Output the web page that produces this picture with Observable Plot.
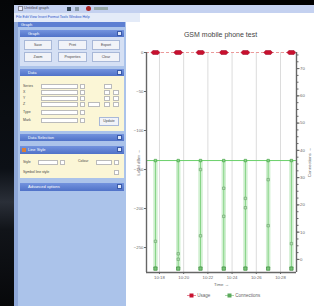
<!DOCTYPE html>
<html><head><meta charset="utf-8">
<script src="https://cdn.jsdelivr.net/npm/d3@7"></script>
<script src="https://cdn.jsdelivr.net/npm/@observablehq/plot@0.6"></script>
<style>
html,body{margin:0;padding:0}
body{width:314px;height:306px;overflow:hidden;position:relative;background:#000;font-family:"Liberation Sans",Arial,sans-serif}
.a{position:absolute;box-sizing:border-box}
.hdr{background:linear-gradient(#7393de,#5072c8);color:#fff;font-size:4px;line-height:7px;padding-left:8px}
.hdr i{position:absolute;right:2px;top:1px;width:5px;height:5px;background:#dfe7fa;border:1px solid #3a5aa8;box-sizing:border-box}
.btn{background:#f1f3f8;border:1px solid #a8b8d8;font-size:3.5px;line-height:8px;text-align:center;color:#444}
.lbl{font-size:3.5px;color:#444}
.inp{background:#fff;border:1px solid #bbb}
</style></head>
<body>
<div class="a" style="left:0;top:0;width:14px;height:306px;background:linear-gradient(#050608 0%,#0c1016 55%,#2a2f38 66%,#111419 75%,#07080a 100%)"></div>
<div class="a" style="left:14px;top:5px;width:300px;height:8px;background:#c4d1f0"></div>
<div class="a" style="left:18px;top:6px;width:5px;height:5px;background:#eef;border:1px solid #889"></div>
<div class="a lbl" style="left:24px;top:5px;font-size:4px;color:#445">Untitled graph</div>
<div class="a" style="left:67px;top:7px;width:4px;height:4px;background:#345"></div>
<div class="a" style="left:75px;top:7px;width:4px;height:4px;background:#8899aa"></div>
<div class="a" style="left:86px;top:6px;width:5px;height:5px;background:#a22;border-radius:3px"></div>
<div class="a" style="left:94px;top:7px;width:14px;height:3px;background:#9aa"></div>
<div class="a" style="left:14px;top:13px;width:300px;height:293px;background:#fff"></div>
<div class="a" style="left:14px;top:13px;width:126px;height:9px;background:#e4ebf8"></div>
<div class="a lbl" style="left:16px;top:15px;font-size:3.5px;color:#2a55c8;white-space:nowrap">File  Edit  View  Insert  Format  Tools  Window  Help</div>
<div class="a" style="left:14px;top:22px;width:112px;height:284px;background:#abc3ea"></div>
<div class="a" style="left:14px;top:22px;width:4px;height:284px;background:#8fa8d8"></div>
<div class="a hdr" style="left:18px;top:22px;width:107px;height:5px;line-height:5px;background:#5d7fd2;padding-left:3px">Graph</div>

<div class="a hdr" style="left:20px;top:30px;width:104px;height:7px">Graph<i></i></div>
<div class="a" style="left:20px;top:37px;width:104px;height:29px;background:#d5e0f4"></div>
<div class="a btn" style="left:24px;top:40px;width:28px;height:10px">Save</div>
<div class="a btn" style="left:58px;top:40px;width:29px;height:10px">Print</div>
<div class="a btn" style="left:92px;top:40px;width:28px;height:10px">Export</div>
<div class="a btn" style="left:24px;top:52px;width:28px;height:10px">Zoom</div>
<div class="a btn" style="left:58px;top:52px;width:29px;height:10px">Properties</div>
<div class="a btn" style="left:92px;top:52px;width:28px;height:10px">Clear</div>

<div class="a hdr" style="left:20px;top:69px;width:104px;height:7px">Data<i></i></div>
<div class="a" style="left:20px;top:76px;width:104px;height:55px;background:#fbf6d6"></div>
<div class="a lbl" style="left:23px;top:84px">Series</div><div class="a inp" style="left:41px;top:84px;width:37px;height:5px"></div><div class="a inp" style="left:80px;top:84px;width:5px;height:5px"></div><div class="a inp" style="left:104px;top:84px;width:8px;height:5px"></div>
<div class="a lbl" style="left:23px;top:90px">X</div><div class="a inp" style="left:41px;top:90px;width:37px;height:5px"></div><div class="a inp" style="left:80px;top:90px;width:5px;height:5px"></div><div class="a inp" style="left:104px;top:90px;width:6px;height:5px"></div><div class="a inp" style="left:113px;top:90px;width:6px;height:5px"></div>
<div class="a lbl" style="left:23px;top:96px">Y</div><div class="a inp" style="left:41px;top:96px;width:37px;height:5px"></div><div class="a inp" style="left:80px;top:96px;width:5px;height:5px"></div><div class="a inp" style="left:104px;top:96px;width:6px;height:5px"></div><div class="a inp" style="left:113px;top:96px;width:6px;height:5px"></div>
<div class="a lbl" style="left:23px;top:102px">Z</div><div class="a inp" style="left:41px;top:102px;width:37px;height:5px"></div><div class="a inp" style="left:80px;top:102px;width:5px;height:5px"></div><div class="a inp" style="left:88px;top:102px;width:12px;height:5px"></div><div class="a inp" style="left:104px;top:102px;width:6px;height:5px"></div><div class="a inp" style="left:113px;top:102px;width:6px;height:5px"></div>
<div class="a lbl" style="left:23px;top:110px">Type</div><div class="a inp" style="left:41px;top:110px;width:37px;height:5px"></div><div class="a inp" style="left:80px;top:110px;width:5px;height:5px"></div>
<div class="a lbl" style="left:23px;top:118px">Mark</div><div class="a inp" style="left:41px;top:118px;width:37px;height:5px"></div><div class="a inp" style="left:80px;top:118px;width:5px;height:5px"></div>
<div class="a btn" style="left:99px;top:117px;width:20px;height:9px;line-height:7px">Update</div>

<div class="a hdr" style="left:20px;top:134px;width:104px;height:7px">Data Selection<i></i></div>
<div class="a hdr" style="left:20px;top:146px;width:104px;height:8px;line-height:8px">Line Style<i></i></div>
<div class="a" style="left:22px;top:148px;width:4px;height:4px;background:#d9803a"></div>
<div class="a" style="left:20px;top:154px;width:104px;height:24px;background:#fbf6d6"></div>
<div class="a lbl" style="left:23px;top:160px">Style</div><div class="a inp" style="left:38px;top:160px;width:20px;height:5px"></div><div class="a inp" style="left:60px;top:160px;width:5px;height:5px"></div>
<div class="a lbl" style="left:78px;top:159px">Colour</div><div class="a inp" style="left:96px;top:160px;width:16px;height:5px"></div><div class="a inp" style="left:114px;top:160px;width:5px;height:5px"></div>
<div class="a lbl" style="left:23px;top:170px">Symbol line style</div><div class="a inp" style="left:114px;top:170px;width:5px;height:5px"></div>
<div class="a hdr" style="left:20px;top:183px;width:104px;height:8px;line-height:8px">Advanced options<i></i></div>

<div id="chart" class="a" style="left:127px;top:22px;width:187px;height:284px">
  <div style="height:23px;line-height:26px;text-align:center;font-size:7px;color:#444">GSM mobile phone test</div>
  <div id="plot"></div>
  <div id="legend" style="height:16px;position:relative;font-size:4.5px;color:#666"></div>
</div>

<script>
// ---- data ----
const xTicks = [18, 20, 22, 24, 26, 28];
const xTickLabels = ["10:18", "10:20", "10:22", "10:24", "10:26", "10:28"];
const leftTicks = [0, -50, -100, -150, -200, -250];
const rightTicks = [70, 60, 50, 40, 30, 20, 10, 0];
const seriesNames = ["Usage", "Connections"];
const groupX = [17.67, 19.55, 21.39, 23.31, 25.1, 26.98, 28.9];
const usageLevel = [0, 0, 0, 0, 0, 0, 0];
const connBase = [-138.5, -138.5, -138.5, -138.5, -138.5, -138.5, -138.5];
const connDrop = [-277, -277, -277, -277, -277, -277, -277];
const midX = [17.67, 19.55, 19.55, 21.39, 21.39, 23.31, 23.31, 25.1, 25.1, 26.98, 26.98, 28.9];
const midY = [-242, -258, -265, -150, -235, -174, -210, -187, -199, -163, -222, -245];
const xDomain = [16.93, 29.32];
const yDomain = [-282, 0];
const rightDomain = [-4.8, 75.9];

// ---- build ----
const red = "#c8102e", green = "#3da33d";
const l2r = d3.scaleLinear(yDomain, rightDomain);
const r2l = d3.scaleLinear(rightDomain, yDomain);
const minorRight = d3.range(0, 76, 2.5).map(v => r2l(v));
const xlab = new Map(xTicks.map((t, i) => [t, xTickLabels[i]]));
const usage = groupX.map((x, i) => ({x, y: usageLevel[i]}));
const conn = groupX.map((x, i) => ({x, y1: connBase[i], y2: connDrop[i]}));
const mids = midX.map((x, i) => ({x, y: midY[i]}));
const wide = {draw(ctx, size) {
  const r = Math.sqrt(size / Math.PI);
  ctx.moveTo(-2.2 * r, 0); ctx.lineTo(-1.3 * r, -r); ctx.lineTo(1.3 * r, -r);
  ctx.lineTo(2.2 * r, 0); ctx.lineTo(1.3 * r, r); ctx.lineTo(-1.3 * r, r); ctx.closePath();
}};

const plot = Plot.plot({
  width: 187, height: 245,
  marginTop: 7, marginLeft: 19, marginRight: 18, marginBottom: 18,
  style: {fontSize: "4.3px", fontFamily: "Liberation Sans, Arial, sans-serif", color: "#666", background: "#fff", overflow: "visible"},
  x: {domain: xDomain},
  y: {domain: yDomain},
  marks: [
    Plot.gridX(xTicks, {stroke: "#dcdcdc", strokeOpacity: 1}),
    Plot.ruleX(conn, {x: "x", y1: "y1", y2: "y2", stroke: "#d2f0d2", strokeWidth: 4.5}),
    Plot.ruleX(conn, {x: "x", y1: "y1", y2: "y2", stroke: "#86d486", strokeWidth: 1}),
    Plot.ruleY([connBase[0]], {stroke: "#6ad06a", strokeWidth: 1}),
    Plot.ruleY([usageLevel[0]], {stroke: "#eb9a9a", strokeWidth: 1.2, strokeDasharray: "3,2"}),
    Plot.dot(mids, {x: "x", y: "y", symbol: "square", r: 1.4, fill: "#b0dcb0", stroke: "#6aa46a", strokeWidth: 0.6}),
    Plot.dot(conn, {x: "x", y: "y1", symbol: "square", r: 1.4, fill: "#8fd08f", stroke: green, strokeWidth: 0.6}),
    Plot.dot(conn, {x: "x", y: "y2", symbol: "square", r: 1.9, fill: "#78c478", stroke: "#3a8a3a", strokeWidth: 0.7}),
    Plot.dot(usage, {x: "x", y: "y", symbol: wide, r: 2, fill: red, stroke: "#9a0020", strokeWidth: 0.5}),
    Plot.ruleX([xDomain[0]], {stroke: "#666", strokeWidth: 1.4}),
    Plot.ruleX([xDomain[1]], {stroke: "#666", strokeWidth: 1.4}),
    Plot.ruleY([yDomain[0]], {stroke: "#666", strokeWidth: 1.4}),
    Plot.axisX({ticks: xTicks, tickFormat: d => xlab.get(d), tickSize: 2, tickPadding: 1, label: "Time", labelAnchor: "center", labelOffset: 13}),
    Plot.axisY({ticks: leftTicks, tickSize: 2, tickPadding: 1, label: "Level dBm", labelAnchor: "center", labelOffset: 10}),
    Plot.axisY({anchor: "right", ticks: minorRight, tickFormat: () => "", tickSize: 1.5, label: null}),
    Plot.axisY({anchor: "right", ticks: rightTicks.map(r => r2l(r)), tickFormat: d => d3.format(".0f")(l2r(d)), tickSize: 2.5, tickPadding: 1, label: "Connections", labelAnchor: "center", labelOffset: 14})
  ]
});
document.getElementById("plot").appendChild(plot);

// legend
const leg = document.getElementById("legend");
const items = [{name: seriesNames[0], color: red, left: 60}, {name: seriesNames[1], color: "#5aaa5a", left: 98}];
for (const it of items) {
  const d = document.createElement("div");
  d.style.cssText = `position:absolute;left:${it.left}px;top:3px;white-space:nowrap;line-height:6px`;
  d.innerHTML = `<svg width="9" height="5" style="vertical-align:middle"><line x1="0" y1="2.5" x2="9" y2="2.5" stroke="${it.color}" stroke-opacity="0.5"/><rect x="2.5" y="0.5" width="4" height="4" fill="${it.color}"/></svg> ${it.name}`;
  leg.appendChild(d);
}
</script>
</body></html>
